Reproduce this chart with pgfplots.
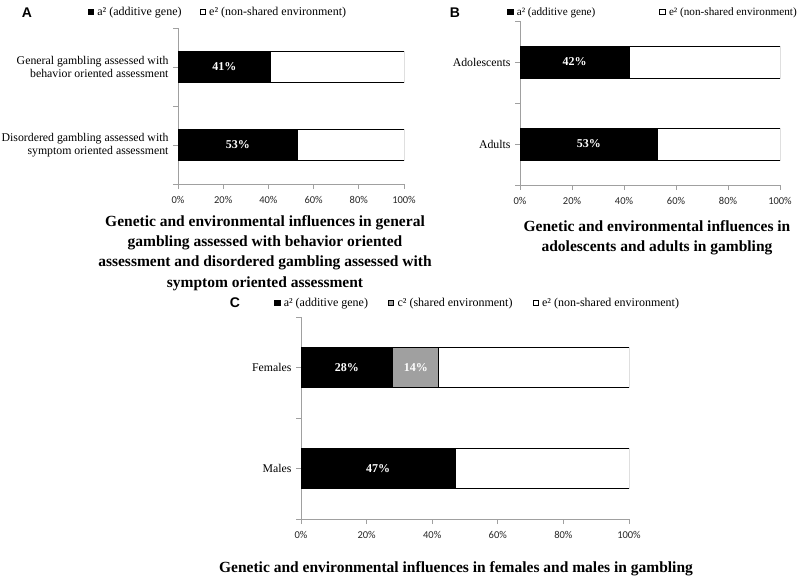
\documentclass[border=0pt]{standalone}
\usepackage{fontspec}
\setmainfont{Liberation Serif}
\newfontfamily\carlito{Carlito}
\newfontfamily\arialfont{Liberation Sans}
\usepackage{pgfplots}
\pgfplotsset{compat=1.18}
\definecolor{axgray}{RGB}{160,160,160}
\definecolor{cgray}{RGB}{160,160,160}

\pgfplotsset{
  panel/.style={
    xbar stacked, scale only axis, anchor=south west,
    xmin=0, xmax=100, ymin=0.5, ymax=2.5,
    axis x line*=bottom, axis y line*=left,
    axis line style={-, draw=axgray, line width=0.8pt},
    xtick={0,20,...,100},
    xticklabel={\pgfmathprintnumber{\tick}\%},
    /pgf/number format/assume math mode=true,
    xticklabel style={font=\carlito\fontsize{10.5}{12}\selectfont, text=black!85, yshift=-4pt},
    ytick={1,2}, extra y ticks={0.5,1.5,2.5}, extra y tick labels={},
    tick align=outside, major tick length=5pt,
    tick style={draw=axgray, line width=0.8pt},
    yticklabel style={align=right, font=\fontsize{11.8}{13.5}\selectfont, xshift=-1pt},
    legend columns=-1,
    legend style={draw=none, fill=none, inner sep=0pt, anchor=west,
      font=\fontsize{12}{14}\selectfont},
    legend cell align=left,
  },
  sq/.style={legend image code/.code={\draw[##1,line width=0.5pt] (0pt,-2.7pt) rectangle (5.4pt,2.7pt); \path (7pt,0pt);}},
  midlab/.style={
    point meta=explicit symbolic,
    nodes near coords={\ifnum\pgfplotspointmeta>0 \pgfplotspointmeta\%\fi},
    every node near coord/.append style={anchor=center, text=white,
      font=\bfseries\fontsize{12}{14}\selectfont}},
}

\begin{document}
\begin{tikzpicture}
\useasboundingbox (0,0) rectangle (800pt,-582pt);

% Panel A
\begin{axis}[panel, at={(178pt,-184pt)}, width=226pt, height=156pt, bar width=31pt,
  yticklabels={{Disordered gambling assessed with\\symptom oriented assessment},
               {General gambling assessed with\\behavior oriented assessment}},
  legend style={at={(axis description cs:-0.40,1.1026)},
    /tikz/every even column/.append style={column sep=16pt}}]
\addplot[fill=black, draw=black, line width=0.7pt, sq, midlab]
  coordinates {(53,1) [53] (41,2) [41]};
\addplot[fill=white, draw=black, line width=0.7pt, sq]
  coordinates {(47,1) (59,2)};
\legend{a² (additive gene), e² (non-shared environment)}
\end{axis}

% Panel B
\begin{axis}[panel, at={(520pt,-185pt)}, width=260pt, height=164pt, bar width=32pt,
  yticklabels={Adults, Adolescents},
  legend style={at={(axis description cs:-0.05,1.0549)}, font=\fontsize{11.2}{13}\selectfont,
    /tikz/every even column/.append style={column sep=62pt}}]
\addplot[fill=black, draw=black, line width=0.7pt, sq, midlab]
  coordinates {(53,1) [53] (42,2) [42]};
\addplot[fill=white, draw=black, line width=0.7pt, sq]
  coordinates {(47,1) (58,2)};
\legend{a² (additive gene), e² (non-shared environment)}
\end{axis}

% Panel C
\begin{axis}[panel, at={(301pt,-519pt)}, width=328pt, height=202pt, bar width=40pt,
  yticklabels={Males, Females},
  legend style={at={(axis description cs:-0.0823,1.0693)},
    /tikz/every even column/.append style={column sep=18pt}}]
\addplot[fill=black, draw=black, line width=0.7pt, sq, midlab]
  coordinates {(47,1) [47] (28,2) [28]};
\addplot[fill=cgray, draw=black, line width=0.7pt, sq, midlab]
  coordinates {(0,1) [0] (14,2) [14]};
\addplot[fill=white, draw=black, line width=0.7pt, sq]
  coordinates {(53,1) (58,2)};
\legend{a² (additive gene), c² (shared environment), e² (non-shared environment)}
\end{axis}

% Panel letters
\node[font=\arialfont\bfseries\fontsize{14}{14}\selectfont] at (27pt,-13pt) {A};
\node[font=\arialfont\bfseries\fontsize{14}{14}\selectfont] at (455pt,-13pt) {B};
\node[font=\arialfont\bfseries\fontsize{14}{14}\selectfont] at (235pt,-303pt) {C};

% Titles
\node[align=center, font=\bfseries\fontsize{15.5}{20.3}\selectfont] at (265pt,-253pt)
 {Genetic and environmental influences in general\\gambling assessed with behavior oriented\\assessment and disordered gambling assessed with\\symptom oriented assessment};
\node[align=center, font=\bfseries\fontsize{15.5}{20}\selectfont] at (657pt,-237.5pt)
 {Genetic and environmental influences in\\adolescents and adults in gambling};
\node[align=center, font=\bfseries\fontsize{15.5}{20}\selectfont] at (456pt,-569pt)
 {Genetic and environmental influences in females and males in gambling};
\end{tikzpicture}
\end{document}
